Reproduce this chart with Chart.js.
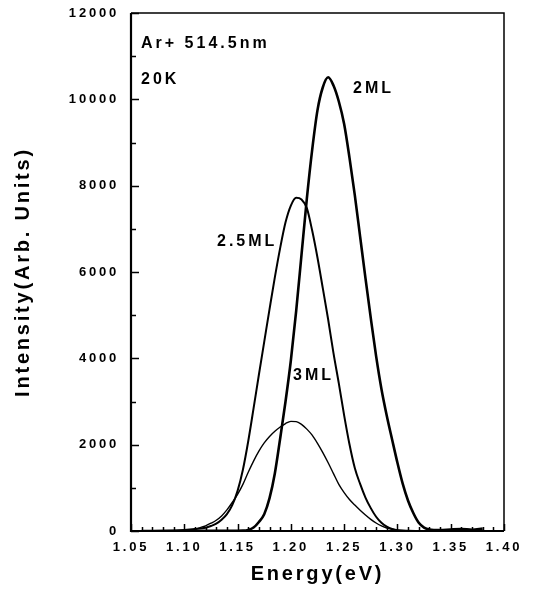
<!DOCTYPE html>
<html>
<head>
<meta charset="utf-8">
<script src="https://cdn.jsdelivr.net/npm/chart.js@4/dist/chart.umd.min.js"></script>
<style>
  body { margin: 0; background: #fff; }
  #wrap { width: 534px; height: 589px; position: relative; }
</style>
</head>
<body>
<div id="wrap"><canvas id="plChart"></canvas></div>
<script>
// PL spectra (energy in eV, intensity in arb. units)
var energy2ML = [1.06, 1.10, 1.14, 1.155, 1.16, 1.165, 1.17, 1.175, 1.18, 1.185, 1.19, 1.195, 1.20, 1.205, 1.21, 1.215, 1.22, 1.225, 1.23, 1.235, 1.24, 1.245, 1.25, 1.255, 1.26, 1.265, 1.27, 1.275, 1.28, 1.285, 1.29, 1.295, 1.30, 1.305, 1.31, 1.315, 1.32, 1.325, 1.33, 1.34, 1.35, 1.36, 1.37, 1.38];
var int2ML = [0, 0, 5, 10, 25, 80, 210, 390, 760, 1340, 2150, 3000, 3950, 5100, 6400, 7700, 8830, 9750, 10280, 10510, 10320, 9950, 9430, 8650, 7780, 6820, 5860, 4930, 4050, 3290, 2670, 2120, 1580, 1090, 700, 410, 190, 80, 35, 20, 35, 45, 30, 55];

var energy25ML = [1.06, 1.08, 1.10, 1.11, 1.12, 1.125, 1.13, 1.135, 1.14, 1.145, 1.15, 1.155, 1.16, 1.165, 1.17, 1.175, 1.18, 1.185, 1.19, 1.195, 1.20, 1.205, 1.21, 1.215, 1.22, 1.225, 1.23, 1.235, 1.24, 1.245, 1.25, 1.255, 1.26, 1.265, 1.27, 1.275, 1.28, 1.285, 1.29, 1.295, 1.30, 1.31, 1.32];
var int25ML = [0, 5, 25, 45, 75, 115, 170, 260, 390, 600, 930, 1420, 2080, 2840, 3620, 4380, 5140, 5880, 6560, 7150, 7540, 7720, 7680, 7480, 6960, 6330, 5620, 4900, 4120, 3420, 2680, 2010, 1460, 1090, 775, 530, 330, 190, 100, 45, 15, 5, 0];

var energy3ML = [1.06, 1.08, 1.09, 1.10, 1.105, 1.11, 1.115, 1.12, 1.125, 1.13, 1.135, 1.14, 1.145, 1.15, 1.155, 1.16, 1.165, 1.17, 1.175, 1.18, 1.185, 1.19, 1.195, 1.20, 1.205, 1.21, 1.215, 1.22, 1.225, 1.23, 1.235, 1.24, 1.245, 1.25, 1.255, 1.26, 1.265, 1.27, 1.275, 1.28, 1.285, 1.29, 1.295, 1.30, 1.31, 1.32];
var int3ML = [0, 5, 8, 12, 20, 45, 80, 120, 180, 250, 350, 490, 660, 850, 1080, 1360, 1620, 1850, 2040, 2190, 2310, 2410, 2490, 2540, 2535, 2470, 2360, 2220, 2030, 1815, 1580, 1330, 1080, 890, 730, 600, 480, 370, 270, 185, 120, 70, 40, 20, 5, 0];

var seriesNames = ['2ML', '2.5ML', '3ML'];

// text placed inside the plot, in data coordinates
var noteTexts = ['Ar+ 514.5nm', '20K', '2ML', '2.5ML', '3ML'];
var noteX = [1.0594, 1.0594, 1.2583, 1.1307, 1.202];
var noteY = [11280, 10450, 10240, 6700, 3590];

function toPoints(xs, ys) {
    return xs.map(function(x, i) { return { x: x, y: ys[i] }; });
}

var boldFont = '"Liberation Sans", Arial, Helvetica, sans-serif';

var frameAndTicks = {
    id: 'frameAndTicks',
    beforeDraw: function(chart) {
        chart.ctx.letterSpacing = '2.8px';
    },
    afterDraw: function(chart) {
        var ctx = chart.ctx;
        var a = chart.chartArea;
        var xs = chart.scales.x;
        var ys = chart.scales.y;
        ctx.save();
        ctx.strokeStyle = '#000';
        ctx.lineCap = 'butt';

        // inward ticks
        ctx.lineWidth = 1.5;
        ctx.beginPath();
        for (var i = 0; i <= 35; i++) {
            var px = Math.round(xs.getPixelForValue(1.05 + i * 0.01)) + 0.5;
            var len = (i % 5 === 0) ? 7 : 4;
            ctx.moveTo(px, a.bottom);
            ctx.lineTo(px, a.bottom - len);
        }
        for (var j = 0; j <= 12; j++) {
            var py = Math.round(ys.getPixelForValue(j * 1000)) + 0.5;
            var ylen = (j % 2 === 0) ? 8 : 5;
            ctx.moveTo(a.left, py);
            ctx.lineTo(a.left + ylen, py);
        }
        ctx.stroke();

        // frame
        ctx.lineWidth = 1.5;
        ctx.beginPath();
        ctx.moveTo(a.left, a.top);
        ctx.lineTo(a.right, a.top);
        ctx.lineTo(a.right, a.bottom);
        ctx.stroke();
        ctx.lineWidth = 2.2;
        ctx.beginPath();
        ctx.moveTo(a.left, a.top);
        ctx.lineTo(a.left, a.bottom);
        ctx.lineTo(a.right, a.bottom);
        ctx.stroke();

        // notes
        ctx.fillStyle = '#000';
        ctx.font = 'bold 16px ' + boldFont;
        ctx.letterSpacing = '3px';
        ctx.textAlign = 'left';
        ctx.textBaseline = 'middle';
        noteTexts.forEach(function(t, k) {
            ctx.fillText(t, xs.getPixelForValue(noteX[k]), ys.getPixelForValue(noteY[k]));
        });
        ctx.restore();
    }
};

var ctx = document.getElementById('plChart').getContext('2d');
var chart = new Chart(ctx, {
    type: 'line',
    data: {
        datasets: [{
            label: seriesNames[0],
            data: toPoints(energy2ML, int2ML),
            borderColor: '#000',
            borderWidth: 2.6
        }, {
            label: seriesNames[1],
            data: toPoints(energy25ML, int25ML),
            borderColor: '#000',
            borderWidth: 2
        }, {
            label: seriesNames[2],
            data: toPoints(energy3ML, int3ML),
            borderColor: '#000',
            borderWidth: 1.4
        }]
    },
    options: {
        responsive: true,
        maintainAspectRatio: false,
        animation: false,
        layout: { padding: { top: 13, right: 30, left: 0, bottom: 0 } },
        elements: {
            point: { radius: 0 },
            line: { cubicInterpolationMode: 'monotone', fill: false }
        },
        plugins: {
            legend: { display: false },
            tooltip: { enabled: false }
        },
        scales: {
            x: {
                type: 'linear',
                min: 1.05,
                max: 1.40,
                afterFit: function(scale) {
                    scale.height = 58;
                    scale.paddingLeft = 0;
                    scale.paddingRight = 0;
                },
                grid: { display: false, drawTicks: false },
                border: { display: false },
                ticks: {
                    stepSize: 0.05,
                    padding: 9,
                    color: '#000',
                    font: { family: boldFont, size: 13, weight: 'bold' },
                    callback: function(v) { return Number(v).toFixed(2); }
                },
                title: {
                    display: true,
                    text: 'Energy(eV)',
                    color: '#000',
                    font: { family: boldFont, size: 20, weight: 'bold' },
                    padding: { top: 0, bottom: 3 }
                }
            },
            y: {
                min: 0,
                max: 12000,
                afterFit: function(scale) {
                    scale.width = 131;
                    scale.paddingTop = 0;
                    scale.paddingBottom = 0;
                },
                grid: { display: false, drawTicks: false },
                border: { display: false },
                ticks: {
                    stepSize: 2000,
                    padding: 12,
                    color: '#000',
                    font: { family: boldFont, size: 13, weight: 'bold' },
                    callback: function(v) { return String(v); }
                },
                title: {
                    display: true,
                    text: 'Intensity(Arb. Units)',
                    color: '#000',
                    font: { family: boldFont, size: 20, weight: 'bold' },
                    padding: { top: 11, bottom: 0 }
                }
            }
        }
    },
    plugins: [frameAndTicks]
});
</script>
</body>
</html>
